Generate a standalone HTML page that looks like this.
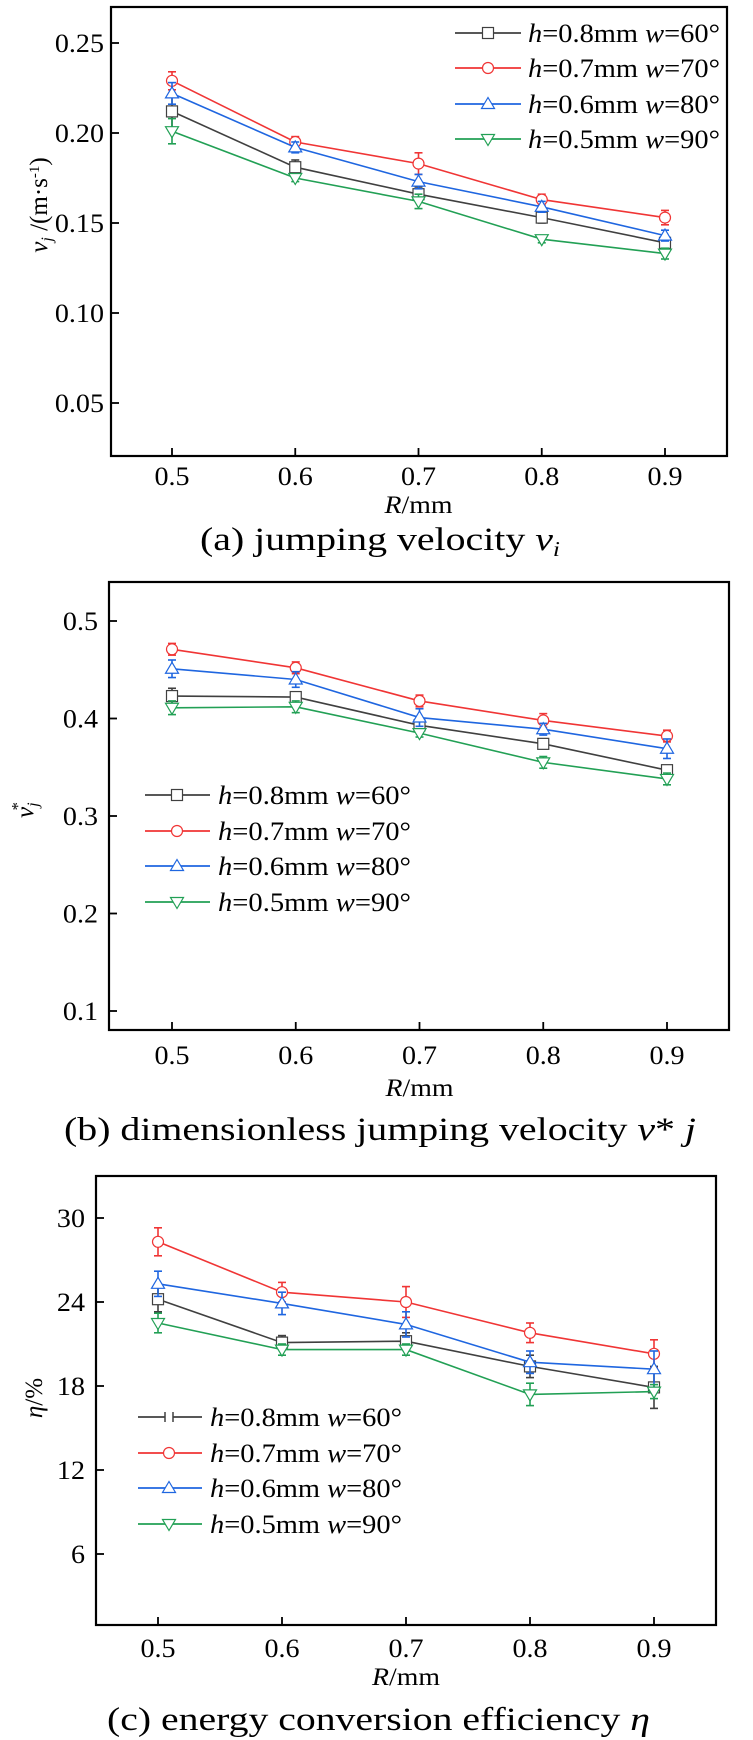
<!DOCTYPE html>
<html><head><meta charset="utf-8"><style>
html,body{margin:0;padding:0;background:#fff;}
svg{display:block;font-family:"Liberation Serif",serif;}
text{font-family:"Liberation Serif",serif;}
</style></head><body>
<svg id="s" width="753" height="1740" viewBox="0 0 753 1740" xmlns="http://www.w3.org/2000/svg" font-family="Liberation Serif, serif"></svg>
<script>
const xCats=[0.5,0.6,0.7,0.8,0.9];
const seriesNames=["h=0.8mm w=60°","h=0.7mm w=70°","h=0.6mm w=80°","h=0.5mm w=90°"];
// panel a
const aBlack=[0.212,0.181,0.166,0.153,0.139];
const aRed=[0.229,0.195,0.183,0.163,0.153];
const aBlue=[0.222,0.192,0.173,0.159,0.143];
const aGreen=[0.201,0.175,0.162,0.141,0.133];
const aErrBlack=[0.009,0.004,0.004,0.003,0.003];
const aErrRed=[0.005,0.003,0.006,0.003,0.004];
const aErrBlue=[0.006,0.003,0.004,0.003,0.003];
const aErrGreen=[0.007,0.002,0.004,0.002,0.003];
const aTicks=[0.05,0.10,0.15,0.20,0.25];
const aTickLabels=["0.05","0.10","0.15","0.20","0.25"];
// panel b
const bBlack=[0.423,0.422,0.393,0.374,0.347];
const bRed=[0.471,0.452,0.418,0.398,0.382];
const bBlue=[0.451,0.440,0.401,0.389,0.369];
const bGreen=[0.411,0.412,0.385,0.355,0.338];
const bErrBlack=[0.008,0.004,0.005,0.004,0.004];
const bErrRed=[0.006,0.006,0.006,0.007,0.006];
const bErrBlue=[0.009,0.008,0.009,0.006,0.010];
const bErrGreen=[0.007,0.006,0.004,0.006,0.006];
const bTicks=[0.1,0.2,0.3,0.4,0.5];
const bTickLabels=["0.1","0.2","0.3","0.4","0.5"];
// panel c
const cBlack=[24.2,21.1,21.2,19.4,17.9];
const cRed=[28.3,24.7,24.0,21.8,20.3];
const cBlue=[25.3,23.9,22.4,19.7,19.2];
const cGreen=[22.5,20.6,20.6,17.4,17.6];
const cErrBlack=[0.9,0.5,0.6,0.8,1.5];
const cErrRed=[1.0,0.7,1.1,0.7,1.0];
const cErrBlue=[0.9,0.8,0.9,0.8,1.3];
const cErrGreen=[0.7,0.4,0.4,0.8,0.5];
const cTicks=[6,12,18,24,30];
const cTickLabels=["6","12","18","24","30"];
const xTickLabels=["0.5","0.6","0.7","0.8","0.9"];

const colors=["#404040","#f03535","#1f66e0","#22a055"];
const markers=["square","circle","up","down"];
const NS="http://www.w3.org/2000/svg";
const FF="Liberation Serif, serif";
const svg=document.getElementById("s");
function el(tag,attrs,parent){const e=document.createElementNS(NS,tag);for(const k in attrs)e.setAttribute(k,attrs[k]);(parent||svg).appendChild(e);return e;}
function txt(parent,x,y,str,size,anchor,sx){
  const t=el("text",{x:0,y:0,"font-size":size,"font-family":FF,"text-anchor":anchor||"start",transform:`translate(${x},${y}) scale(${sx||1.08},1)`,fill:"#000"},parent);
  t.textContent=str;return t;}
function marker(g,type,x,y,c){
  const r=5.5;
  if(type==="square")return el("rect",{x:x-r,y:y-r,width:2*r,height:2*r,fill:"#fff",stroke:c,"stroke-width":1.2},g);
  if(type==="circle")return el("circle",{cx:x,cy:y,r:r,fill:"#fff",stroke:c,"stroke-width":1.2},g);
  if(type==="up")return el("polygon",{points:`${x},${y-r-1} ${x-r-1},${y+r-1} ${x+r+1},${y+r-1}`,fill:"#fff",stroke:c,"stroke-width":1.2},g);
  if(type==="bar"){el("line",{x1:x-4,y1:y-5,x2:x-4,y2:y+5,stroke:c,"stroke-width":1.5},g);return el("line",{x1:x+4,y1:y-5,x2:x+4,y2:y+5,stroke:c,"stroke-width":1.5},g);}
  return el("polygon",{points:`${x},${y+r+1} ${x-r-1},${y-r+1} ${x+r+1},${y-r+1}`,fill:"#fff",stroke:c,"stroke-width":1.2},g);
}
function richTextLegend(g,x,y,name,len){
  const t=el("text",{x:x,y:y,"font-size":26,"font-family":FF,textLength:len,lengthAdjust:"spacingAndGlyphs",fill:"#000"},g);
  const m=name.match(/^h(=[^ ]+ )w(=.*)$/);
  const parts=[["h",1],[m[1],0],["w",1],[m[2],0]];
  parts.forEach(p=>{const s=el("tspan",{},t);if(p[1])s.setAttribute("font-style","italic");s.textContent=p[0];});
}
function panel(cfg){
  const g=el("g",{});
  
  
  const X=v=>cfg.x0+(v-0.5)/0.4*(cfg.x1-cfg.x0);
  const Y=v=>cfg.yA+(v-cfg.vA)/(cfg.vB-cfg.vA)*(cfg.yB-cfg.yA);
  const box=el("rect",{x:cfg.L,y:cfg.T,width:cfg.R-cfg.L,height:cfg.B-cfg.T,fill:"none",stroke:"#000","stroke-width":2.2},g);
  
  
  cfg.ticks.forEach((v,i)=>{
    el("line",{x1:cfg.L,x2:cfg.L+8,y1:Y(v),y2:Y(v),stroke:"#000","stroke-width":1.8},g);
    const t=txt(g,cfg.yLabRight,Y(v)+9,cfg.tickLabels[i],26,"end");
    
    
  });
  xCats.forEach((v,i)=>{
    el("line",{x1:X(v),x2:X(v),y1:cfg.B,y2:cfg.B-8,stroke:"#000","stroke-width":1.8},g);
    const t=txt(g,X(v),cfg.xLabY+1,xTickLabels[i],26,"middle");
    
    
  });
  const xt=el("text",{x:(cfg.x0+cfg.x1)/2,y:cfg.xTitleY,"font-size":25,"font-family":FF,"text-anchor":"middle",textLength:68,lengthAdjust:"spacingAndGlyphs"},g);
  
  
  const r1=el("tspan",{"font-style":"italic"},xt);r1.textContent="R";
  const r2=el("tspan",{},xt);r2.textContent="/mm";
  const yt=el("text",{x:0,y:0,"font-size":25,"font-family":FF,"text-anchor":"middle",transform:`translate(${cfg.yTitleX},${cfg.yTitleY}) rotate(-90)`},g);
  
  
  cfg.yTitle(yt);
  cfg.series.forEach((s,si)=>{
    const sg=el("g",{},g);
    
    
    const c=colors[si];
    const pts=s.vals.map((v,i)=>X(xCats[i])+","+Y(v)).join(" ");
    el("polyline",{points:pts,fill:"none",stroke:c,"stroke-width":1.6},sg);
    s.vals.forEach((v,i)=>{
      const x=X(xCats[i]),e=s.err[i];
      el("line",{x1:x,x2:x,y1:Y(v+e),y2:Y(v-e),stroke:c,"stroke-width":1.6},sg);
      el("line",{x1:x-4,x2:x+4,y1:Y(v+e),y2:Y(v+e),stroke:c,"stroke-width":1.6},sg);
      el("line",{x1:x-4,x2:x+4,y1:Y(v-e),y2:Y(v-e),stroke:c,"stroke-width":1.6},sg);
      const m=marker(sg,markers[si],x,Y(v),c);
      
      
    });
  });
  const lg=el("g",{},g);
  
  
  seriesNames.forEach((n,i)=>{
    const eg=el("g",{},lg);
    
    
    const y=cfg.legY[i];
    el("line",{x1:cfg.legL,x2:cfg.legR,y1:y,y2:y,stroke:colors[i],"stroke-width":1.8},eg);
    const mk=(cfg.legBar&&i===0)?"bar":markers[i];
    if(mk==="bar")el("line",{x1:cfg.legM-4,x2:cfg.legM+4,y1:y,y2:y,stroke:"#fff","stroke-width":3},eg);
    marker(eg,mk,cfg.legM,y,colors[i]);
    richTextLegend(eg,cfg.legT,y+9,n,cfg.legLen);
  });
  const cap=el("text",{x:cfg.capX,y:cfg.capY,"font-size":33,"font-family":FF,textLength:cfg.capLen,lengthAdjust:"spacingAndGlyphs"},g);
  
  
  cfg.caption(cap);
}
function sp(p,str,italic,extra){const s=el("tspan",extra||{},p);if(italic)s.setAttribute("font-style","italic");s.textContent=str;return s;}

panel({name:"panel-a-jumping-velocity",L:111,R:727,T:7,B:456,x0:172,x1:665,yA:43,vA:0.25,yB:133,vB:0.20,
  ticks:aTicks,tickLabels:aTickLabels,yLabRight:104,xLabY:484,xTitleY:513,yTitleX:47,yTitleY:205,
  yTitle:t=>{sp(t,"v",true);sp(t,"j",true,{"font-size":16,dy:5});sp(t," /(m·s",false,{dy:-5});sp(t,"-1",false,{"font-size":15,dy:-8});sp(t,")",false,{dy:8});},
  series:[{vals:aBlack,err:aErrBlack},{vals:aRed,err:aErrRed},{vals:aBlue,err:aErrBlue},{vals:aGreen,err:aErrGreen}],
  legY:[33,68,104,139],legL:455,legR:521,legM:488,legT:528,legLen:192,
  capX:200,capY:550,capLen:360,caption:c=>{sp(c,"(a) jumping velocity ");sp(c,"v",true);sp(c,"i",true,{"font-size":21,dy:6});}
});
panel({name:"panel-b-dimensionless-velocity",L:109,R:729,T:582,B:1030,x0:172,x1:667,yA:621,vA:0.5,yB:1011,vB:0.1,
  ticks:bTicks,tickLabels:bTickLabels,yLabRight:98,xLabY:1063,xTitleY:1096,yTitleX:33,yTitleY:810,
  yTitle:t=>{sp(t,"v",true);sp(t,"j",true,{"font-size":16,dy:5});sp(t,"*",false,{"font-size":17,dx:-8,dy:-15});},
  series:[{vals:bBlack,err:bErrBlack},{vals:bRed,err:bErrRed},{vals:bBlue,err:bErrBlue},{vals:bGreen,err:bErrGreen}],
  legY:[795,831,866,902],legL:145,legR:210,legM:177,legT:218,legLen:193,
  capX:64,capY:1140,capLen:632,caption:c=>{sp(c,"(b) dimensionless jumping velocity ");sp(c,"v",true);sp(c,"* ",false);sp(c,"j",true);}
});
panel({name:"panel-c-energy-efficiency",L:96,R:716,T:1176,B:1625,x0:158,x1:654,yA:1218,vA:30,yB:1554,vB:6,
  ticks:cTicks,tickLabels:cTickLabels,yLabRight:85,xLabY:1656,xTitleY:1685,yTitleX:42,yTitleY:1398,
  yTitle:t=>{sp(t,"η",true);sp(t,"/%",false);},
  series:[{vals:cBlack,err:cErrBlack},{vals:cRed,err:cErrRed},{vals:cBlue,err:cErrBlue},{vals:cGreen,err:cErrGreen}],
  legY:[1417,1453,1488,1524],legL:138,legR:202,legM:169,legT:210,legLen:192,legBar:true,
  capX:107,capY:1730,capLen:543,caption:c=>{sp(c,"(c) energy conversion efficiency ");sp(c,"η",true);}
});
</script>
</body></html>
